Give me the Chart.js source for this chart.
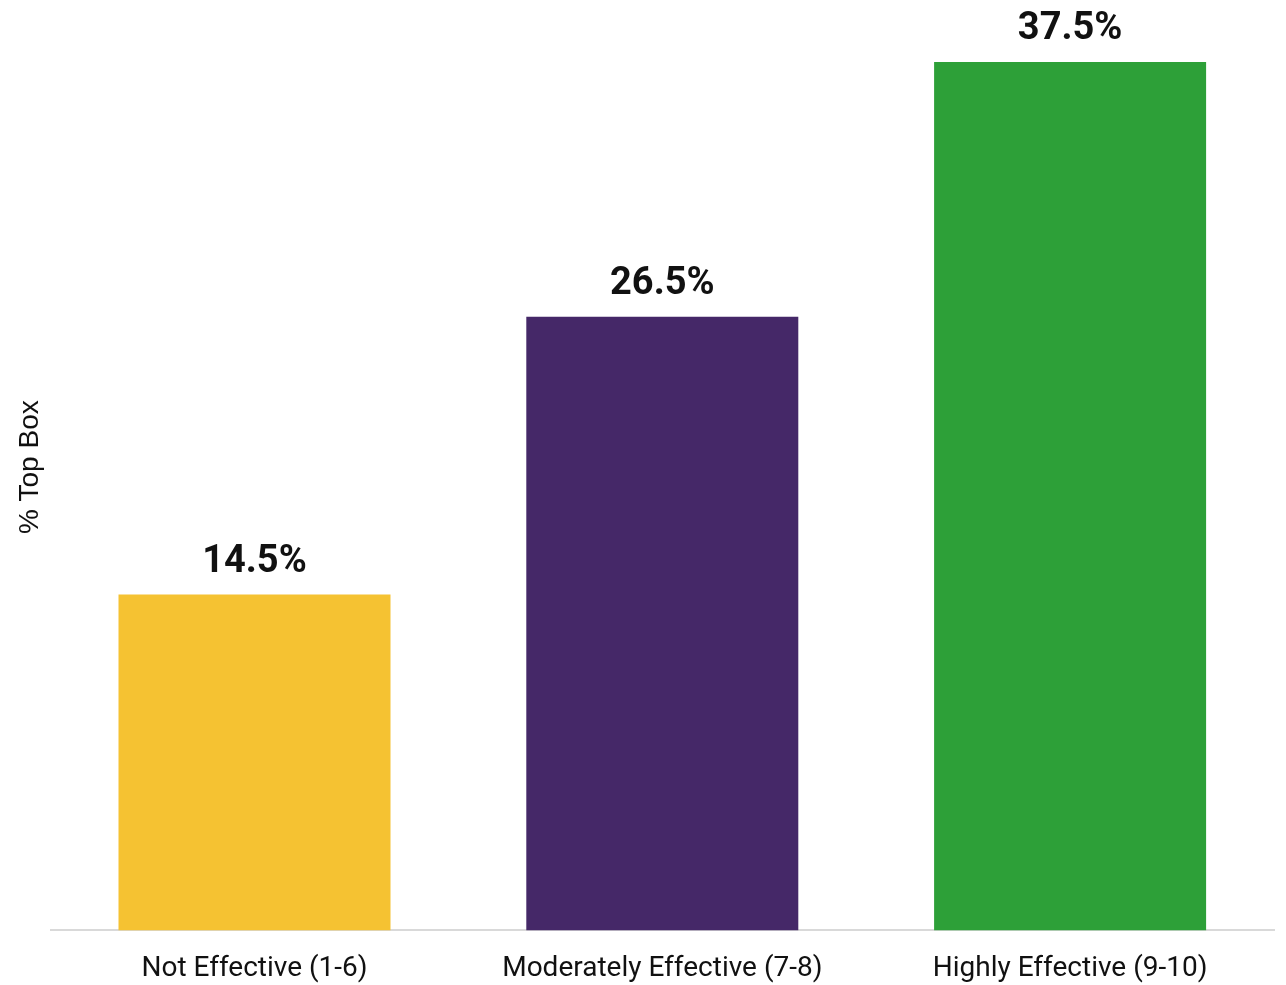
<!DOCTYPE html>
<html>
<head>
<meta charset="utf-8">
<title>% Top Box</title>
<script src="https://cdn.jsdelivr.net/npm/chart.js@4/dist/chart.umd.min.js"></script>
<style>
    html, body { margin: 0; padding: 0; background: #fff; }
    #wrap { width: 1286px; height: 985px; position: relative; }
</style>
</head>
<body>
<div id="wrap"><canvas id="top-box-chart"></canvas></div>
<script>
const categories = ['Not Effective (1-6)', 'Moderately Effective (7-8)', 'Highly Effective (9-10)'];
const topBoxValues = [14.5, 26.5, 37.5];
const barColors = ['#f5c232', '#452868', '#2da038'];

// writes the value above each bar
const valueLabels = {
    id: 'valueLabels',
    afterDatasetsDraw(chart) {
        const ctx = chart.ctx;
        const meta = chart.getDatasetMeta(0);
        ctx.save();
        ctx.font = 'bold 38px Roboto, sans-serif';
        ctx.fillStyle = '#111';
        ctx.textAlign = 'center';
        ctx.textBaseline = 'alphabetic';
        meta.data.forEach((bar, i) => {
            ctx.fillText(topBoxValues[i].toFixed(1) + '%', bar.x, bar.y - 23);
        });
        ctx.restore();
    }
};

const ctx = document.getElementById('top-box-chart');

new Chart(ctx, {
    type: 'bar',
    data: {
        labels: categories,
        datasets: [{
            data: topBoxValues,
            backgroundColor: barColors,
            borderWidth: 0,
            categoryPercentage: 0.667,
            barPercentage: 1
        }]
    },
    options: {
        responsive: true,
        maintainAspectRatio: false,
        animation: false,
        layout: {
            padding: { top: 4, right: 12, bottom: -23, left: 9 }
        },
        plugins: {
            legend: { display: false },
            tooltip: { enabled: false }
        },
        scales: {
            x: {
                grid: { display: false, drawTicks: false },
                border: { color: '#d9d9d9', width: 2 },
                ticks: {
                    color: '#111',
                    font: { family: 'Roboto, sans-serif', size: 28 },
                    padding: 22
                }
            },
            y: {
                min: 0,
                max: 40,
                grid: { display: false, drawTicks: false },
                border: { display: false },
                ticks: { display: false },
                title: {
                    display: true,
                    text: '% Top Box',
                    color: '#111',
                    font: { family: '"Liberation Sans", Arial, sans-serif', size: 28 },
                    padding: { top: 4, bottom: 4 }
                }
            }
        }
    },
    plugins: [valueLabels]
});
</script>
</body>
</html>
